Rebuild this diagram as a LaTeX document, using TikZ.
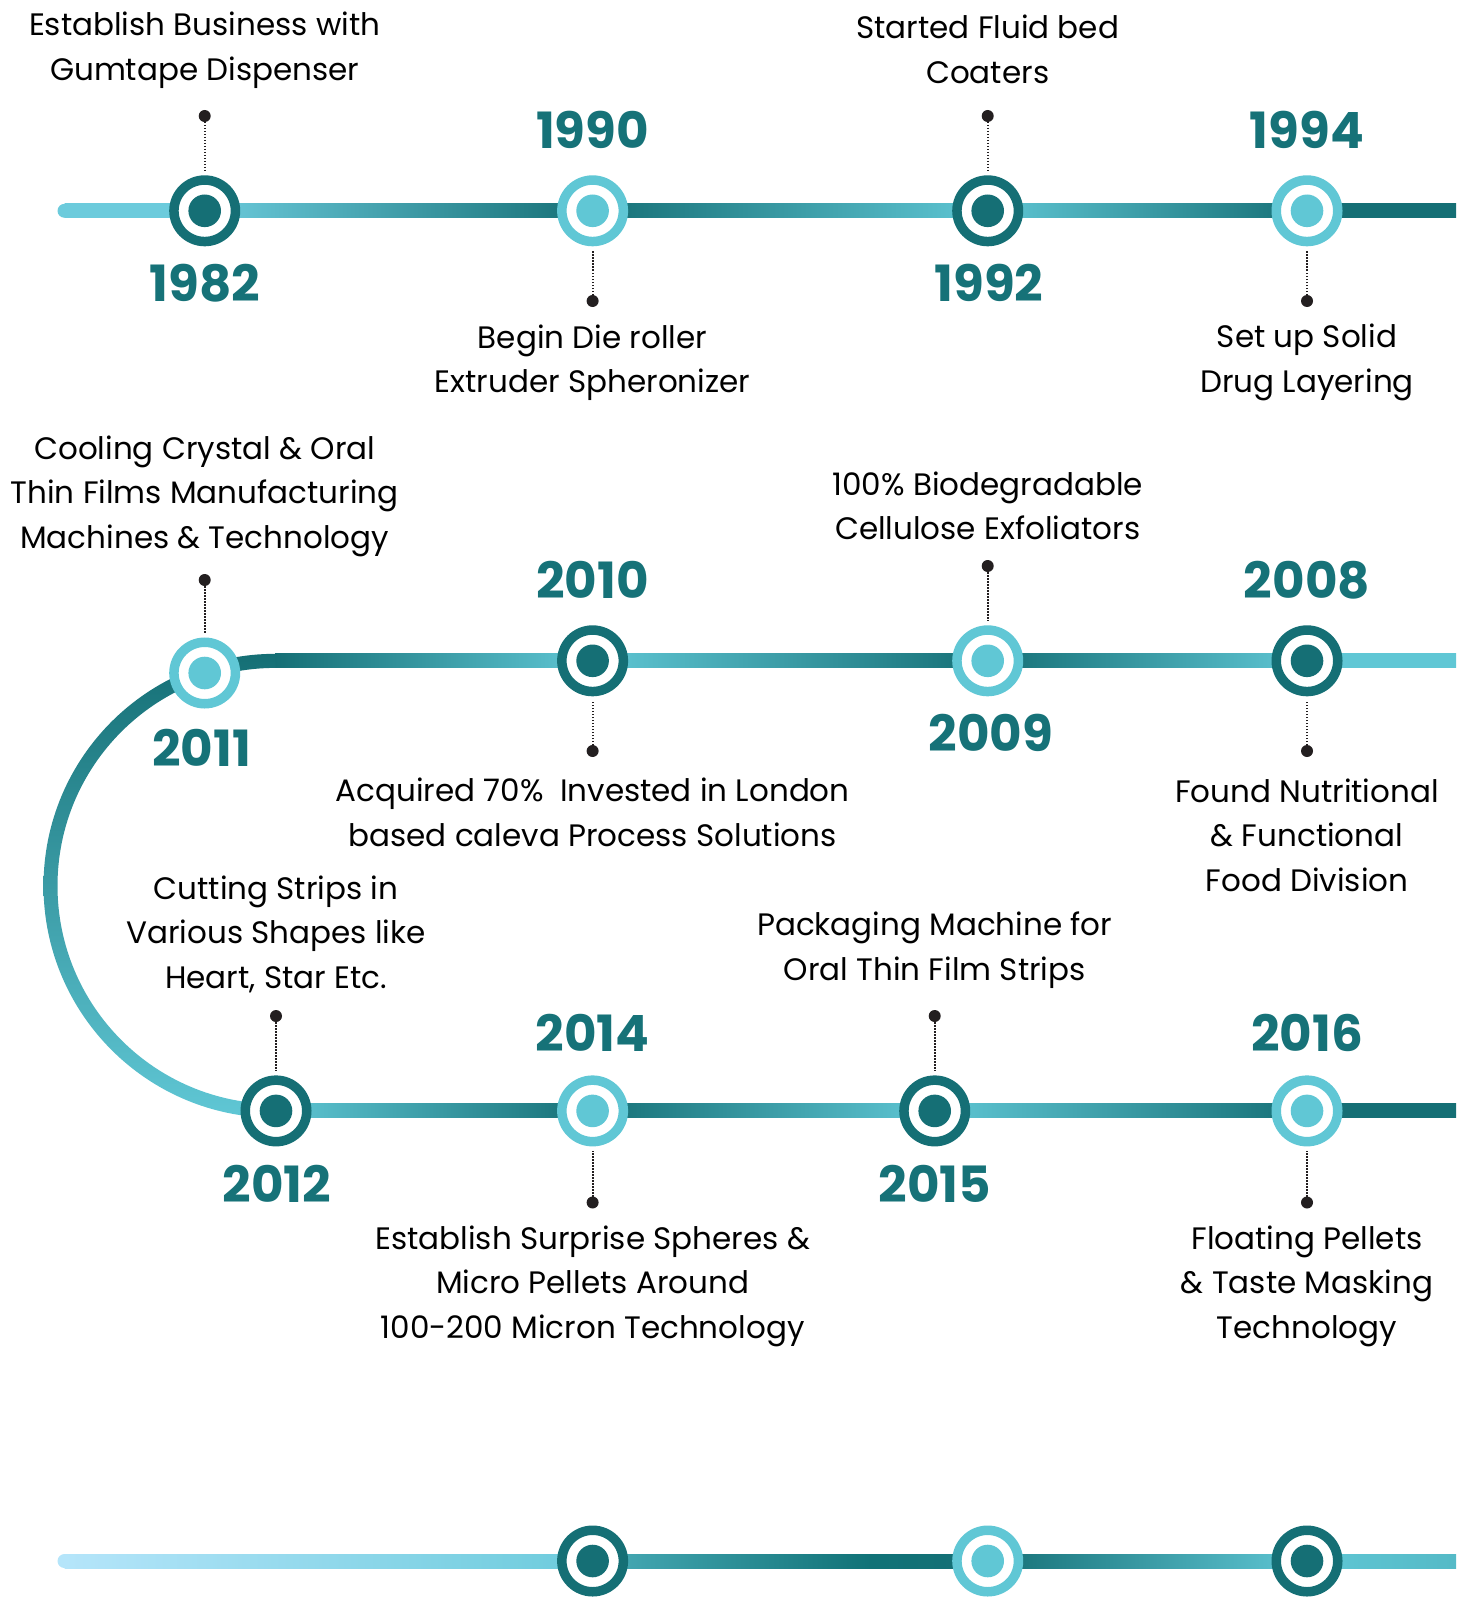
\documentclass[tikz,border=0pt]{standalone}
\usepackage{fontspec}
\setmainfont{Poppins}
\newfontfamily\yearfont{Poppins}
\definecolor{tdark}{HTML}{156F75}
\definecolor{tlight}{HTML}{60C7D5}
\definecolor{tstart}{HTML}{6CCBDC}
\definecolor{tblue}{HTML}{B5E5FA}
\definecolor{tbluemid}{HTML}{A3DDF3}
\definecolor{ink}{HTML}{231F20}
\definecolor{yearc}{HTML}{167278}
\newcommand\hseg[5]{\shade[left color=#4,right color=#5] ({#1},{#3-7}) rectangle ({#2},{#3+7});}
\tikzset{
  ms/.style={circle, minimum size=61.5pt, inner sep=0pt, line width=9.5pt, fill=white, draw=#1,
     path picture={\fill[#1] (path picture bounding box.center) circle[radius=16.3pt];}},
  msdark/.style={ms=tdark},
  mslight/.style={ms=tlight},
  desc/.style={align=center, font=\fontsize{31}{44.5}\selectfont, text=black, inner sep=0pt},
  yr/.style={font=\yearfont\bfseries\fontsize{50}{50}\selectfont, text=yearc, inner sep=0pt},
  conn/.style={ink, line width=1.8pt, dash pattern=on 1.5pt off 1.5pt, shorten >=4.75pt},
  pin/.style={fill=ink},
}
\begin{document}
\begin{tikzpicture}[x=1pt,y=-1pt]
\useasboundingbox (0,0) rectangle (1456,1597);
% ---------- row 1 line ----------
\fill[tstart] (64.5,210.8) circle[radius=7pt];
\hseg{64.5}{205}{210.8}{tstart}{tstart}
\hseg{205}{593}{210.8}{tstart}{tdark}
\hseg{592}{988}{210.8}{tdark}{tlight}
\hseg{987}{1308}{210.8}{tlight}{tdark}
\hseg{1307}{1456}{210.8}{tdark}{tdark}
% ---------- row 2 line ----------
\hseg{275}{593}{660.8}{tdark}{tlight}
\hseg{592}{988}{660.8}{tlight}{tdark}
\hseg{987}{1308}{660.8}{tdark}{tlight}
\hseg{1307}{1456}{660.8}{tlight}{tlight}
% ---------- arc ----------
\shade[top color=tdark, bottom color=tlight]
  (275.5,653.8) arc[start angle=270, end angle=90, radius=232]
  -- (275.5,1103.9) arc[start angle=90, end angle=270, radius=218] -- cycle;
% ---------- row 3 line ----------
\hseg{275}{593}{1110.9}{tlight}{tdark}
\hseg{592}{935}{1110.9}{tdark}{tlight}
\hseg{934}{1308}{1110.9}{tlight}{tdark}
\hseg{1307}{1456}{1110.9}{tdark}{tdark}
% ---------- row 4 line ----------
\fill[tblue] (64.5,1561) circle[radius=7pt];
\shade[left color=tblue, middle color=tbluemid, right color=tstart] (64.5,1554) rectangle (593,1568);
\hseg{592}{870}{1561}{tlight!70!tdark}{tdark!80!teal}
\hseg{869}{988}{1561}{tdark!80!teal}{tdark}
\hseg{987}{1308}{1561}{tdark}{tlight}
\hseg{1307}{1456}{1561}{tlight}{tlight!85!tdark}
% ---------- milestone circles ----------
\node[msdark]  (c1982) at (204.7,210.8) {};
\node[mslight] (c1990) at (592.6,210.8) {};
\node[msdark]  (c1992) at (987.7,210.8) {};
\node[mslight] (c1994) at (1307,210.8) {};
\node[mslight] (c2011) at (204.7,673) {};
\node[msdark]  (c2010) at (592.6,660.8) {};
\node[mslight] (c2009) at (987.7,660.8) {};
\node[msdark]  (c2008) at (1307,660.8) {};
\node[msdark]  (c2012) at (276,1110.9) {};
\node[mslight] (c2014) at (592.6,1110.9) {};
\node[msdark]  (c2015) at (934.7,1110.9) {};
\node[mslight] (c2016) at (1307,1110.9) {};
\node[msdark]  (c4a) at (592.6,1561) {};
\node[mslight] (c4b) at (987.7,1561) {};
\node[msdark]  (c4c) at (1307,1561) {};
% ---------- pins ----------
\coordinate (d1982) at (204.7,116);
\coordinate (d1990) at (592.6,301);
\coordinate (d1992) at (987.7,116);
\coordinate (d1994) at (1307,301);
\coordinate (d2011) at (204.7,580);
\coordinate (d2010) at (592.6,751);
\coordinate (d2009) at (987.7,566);
\coordinate (d2008) at (1307,751);
\coordinate (d2012) at (276,1016);
\coordinate (d2014) at (592.6,1202.5);
\coordinate (d2015) at (934.7,1016);
\coordinate (d2016) at (1307,1202.5);
\foreach \p in {1982,1990,1992,1994,2011,2010,2009,2008,2012,2014,2015,2016}{
  \draw[conn] (d\p) -- (c\p);
  \fill[pin] (d\p) circle[radius=6pt];
}
% ---------- years ----------
\node[yr] (y1982) at (204.7,283) {1982};
\node[yr] (y1990) at (592.6,130) {1990};
\node[yr] (y1992) at (989,283) {1992};
\node[yr] (y1994) at (1307,130) {1994};
\node[yr] (y2011) at (201.6,748) {2011};
\node[yr] (y2010) at (592.6,580) {2010};
\node[yr] (y2009) at (990.7,733) {2009};
\node[yr] (y2008) at (1307,580) {2008};
\node[yr] (y2012) at (277,1184) {2012};
\node[yr] (y2014) at (592.6,1032.5) {2014};
\node[yr] (y2015) at (934.7,1184) {2015};
\node[yr] (y2016) at (1307,1032.5) {2016};
% ---------- descriptions ----------
\node[desc] (t1982) at (204.7,50) {Establish Business with\\Gumtape Dispenser};
\node[desc] (t1990) at (592.6,362.5) {Begin Die roller\\Extruder Spheronizer};
\node[desc] (t1992) at (987.7,49.5) {Started Fluid bed\\Coaters};
\node[desc] (t1994) at (1307,362.5) {Set up Solid\\Drug Layering};
\node[desc] (t2011) at (204.7,496) {Cooling Crystal \& Oral\\Thin Films Manufacturing\\Machines \& Technology};
\node[desc] (t2010) at (592.6,812.5) {Acquired 70\%~ Invested in London\\based caleva Process Solutions};
\node[desc] (t2009) at (987.7,506) {100\% Biodegradable\\Cellulose Exfoliators};
\node[desc] (t2008) at (1307,835) {Found Nutritional\\\& Functional\\Food Division};
\node[desc] (t2012) at (276,934) {Cutting Strips in\\Various Shapes like\\Heart, Star Etc.};
\node[desc] (t2014) at (592.6,1286) {Establish Surprise Spheres \&\\Micro Pellets Around\\100-200 Micron Technology};
\node[desc] (t2015) at (934.7,950) {Packaging Machine for\\Oral Thin Film Strips};
\node[desc] (t2016) at (1307,1286) {Floating Pellets\\\& Taste Masking\\Technology};
\end{tikzpicture}
\end{document}
